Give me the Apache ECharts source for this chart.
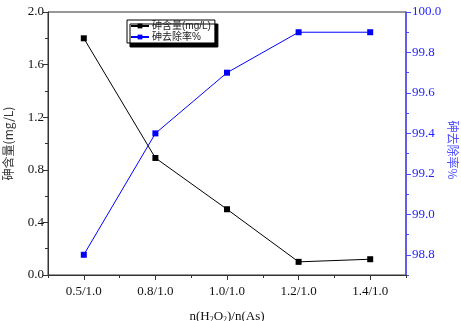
<!DOCTYPE html>
<html>
<head>
<meta charset="utf-8">
<script src="https://cdn.jsdelivr.net/npm/echarts@6/dist/echarts.min.js"></script>
<style>
  html, body { margin: 0; padding: 0; background: #fff; }
  #main { width: 461px; height: 321px; }
</style>
</head>
<body>
<div id="main"></div>
<script>
// 数据
var categories = ['0.5/1.0', '0.8/1.0', '1.0/1.0', '1.2/1.0', '1.4/1.0'];
var arsenicContent = [1.8, 0.89, 0.5, 0.1, 0.12];
var removalRate = [98.8, 99.4, 99.7, 99.9, 99.9];
var rateTicks = [98.8, 99.0, 99.2, 99.4, 99.6, 99.8, 100.0];
var catTicks = [1, 2, 3, 4, 5];

var serif = '"Liberation Serif", "Noto Sans CJK SC", serif';
var blue = '#1f1fff';

function pairs(arr) {
	return arr.map(function (v, i) { return [i + 1, v]; });
}

var chart = echarts.init(document.getElementById('main'));

var option = {
	animation: false,
	grid: {
		left: 48, right: 55, top: 12, bottom: 46,
		containLabel: false,
		outerBoundsMode: 'none',
		show: true, borderColor: '#333', borderWidth: 1
	},
	// 右轴标题，从上往下读
	graphic: [
		{
			type: 'text',
			x: 453,
			y: 150,
			rotation: -Math.PI / 2,
			style: {
				text: '砷去除率%',
				fill: '#5050ff',
				font: '12px "Noto Sans CJK SC", serif',
				align: 'center',
				verticalAlign: 'middle'
			}
		}
	],
	legend: {
		orient: 'vertical',
		left: 127, top: 20,
		padding: [1, 4, 1, 3],
		itemGap: 1,
		itemWidth: 18,
		itemHeight: 6,
		backgroundColor: '#fff',
		borderColor: '#000',
		borderWidth: 1,
		shadowColor: '#000',
		shadowBlur: 0,
		shadowOffsetX: 3,
		shadowOffsetY: 4,
		textStyle: { fontSize: 10, fontFamily: '"Liberation Sans", "Noto Sans CJK SC", sans-serif', color: '#222', padding: [0, 0, 0, -2] },
		data: ['砷含量(mg/L)', '砷去除率%']
	},
	xAxis: [
		{
			type: 'value', min: 0.5, max: 5.5, interval: 0.5,
			position: 'bottom',
			splitLine: { show: false },
			axisLine: { lineStyle: { color: '#333', width: 1 } },
			axisTick: { customValues: catTicks, length: 5, lineStyle: { color: '#333' } },
			axisLabel: {
				customValues: catTicks,
				margin: 10,
				fontFamily: serif, fontSize: 13, color: '#111',
				formatter: function (v) { return categories[Math.round(v) - 1] || ''; }
			},
			name: 'n(H{s|2}O{s|2})/n(As)',
			nameLocation: 'middle',
			nameGap: 35,
			nameMoveOverlap: false,
			nameTextStyle: {
				fontFamily: serif, fontSize: 13, color: '#111',
				rich: { s: { fontFamily: serif, fontSize: 8, color: '#111', padding: [6, 0, 0, 0] } }
			}
		},
		{
			// 次刻度
			type: 'value', min: 0.5, max: 5.5, interval: 0.5,
			position: 'bottom',
			splitLine: { show: false },
			axisLine: { show: false },
			axisTick: { length: 3, lineStyle: { color: '#333' } },
			axisLabel: { show: false }
		}
	],
	yAxis: [
		{
			type: 'value', min: 0, max: 2, interval: 0.4,
			position: 'left',
			splitLine: { show: false },
			axisLine: { show: true, lineStyle: { color: '#333', width: 1 } },
			axisTick: { show: true, length: 5, lineStyle: { color: '#333' } },
			minorTick: { show: true, splitNumber: 2, length: 3, lineStyle: { color: '#333' } },
			axisLabel: {
				margin: 4,
				fontFamily: serif, fontSize: 13, color: '#111',
				formatter: function (v) { return v.toFixed(1); }
			},
			name: '砷含量(mg/L)',
			nameLocation: 'middle',
			nameRotate: 90,
			nameGap: 34,
			nameMoveOverlap: false,
			nameTextStyle: { fontFamily: '"Noto Sans CJK SC", serif', fontSize: 12, color: '#333' }
		},
		{
			type: 'value', min: 98.7, max: 100.0, interval: 0.1,
			position: 'right',
			splitLine: { show: false },
			axisLine: { show: true, lineStyle: { color: '#4d4dff', width: 1.5 } },
			axisTick: { show: true, customValues: rateTicks, length: 5, lineStyle: { color: '#4d4dff' } },
			axisLabel: {
				customValues: rateTicks,
				margin: 6,
				fontFamily: serif, fontSize: 13, color: blue,
				formatter: function (v) { return v.toFixed(1); }
			}
		},
		{
			// 右轴次刻度
			type: 'value', min: 98.7, max: 100.0, interval: 0.1,
			position: 'right',
			splitLine: { show: false },
			axisLine: { show: false },
			axisTick: { show: true, length: 3, lineStyle: { color: '#4d4dff' } },
			axisLabel: { show: false }
		}
	],
	series: [
		{
			name: '砷含量(mg/L)',
			type: 'line',
			xAxisIndex: 0,
			yAxisIndex: 0,
			data: pairs(arsenicContent),
			symbol: 'rect',
			symbolSize: 6,
			lineStyle: { color: '#000', width: 1 },
			itemStyle: { color: '#000' }
		},
		{
			name: '砷去除率%',
			type: 'line',
			xAxisIndex: 0,
			yAxisIndex: 1,
			data: pairs(removalRate),
			symbol: 'rect',
			symbolSize: 6,
			lineStyle: { color: '#0000ff', width: 1 },
			itemStyle: { color: '#0000ff' }
		}
	]
};

chart.setOption(option);
</script>
</body>
</html>
